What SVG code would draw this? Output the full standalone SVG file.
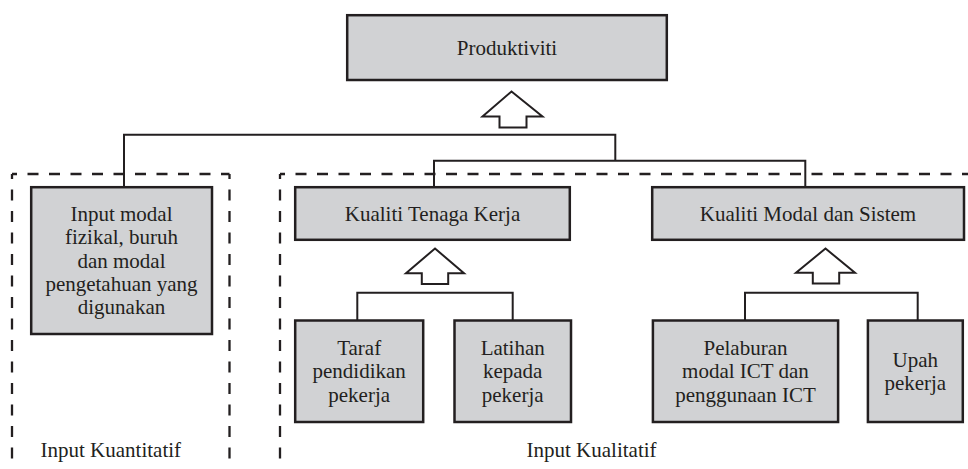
<svg xmlns="http://www.w3.org/2000/svg" width="968" height="469" viewBox="0 0 968 469">
<style>
.box{fill:#d1d2d4;stroke:#231f20;stroke-width:2.5}
.t{font-family:"Liberation Serif","Times New Roman",serif;font-size:21px;fill:#231f20;text-anchor:middle}
.tl{font-family:"Liberation Serif","Times New Roman",serif;font-size:21px;fill:#231f20}
.ln{fill:none;stroke:#231f20;stroke-width:2}
.dash{fill:none;stroke:#231f20;stroke-width:2.3;stroke-dasharray:11 10.5;stroke-dashoffset:6}
.arr{fill:#ffffff;stroke:#231f20;stroke-width:2;stroke-linejoin:miter}
</style>
<rect width="968" height="469" fill="#ffffff"/>
<g id="groups">
<path class="dash" d="M12,174 V469"/>
<path class="dash" d="M12,174 H229.5"/>
<path class="dash" d="M229.5,174 V469"/>
<path class="dash" d="M280,174 V469"/>
<path class="dash" d="M280,174 H968"/>
<text class="tl" x="40.5" y="457">Input Kuantitatif</text>
<text class="tl" x="526.5" y="457">Input Kualitatif</text>
</g>
<g id="connectors">
<path class="ln" d="M124,187 V134.7 H615.3 V160.7"/>
<path class="ln" d="M434,187 V160.7 H805.3 V187"/>
<path class="ln" d="M357.3,320 V292.7 H512.7 V320"/>
<path class="ln" d="M745,320 V292.7 H917.7 V320"/>
<polygon class="arr" points="511.5,91.5 542.5,116.5 526.5,116.5 526.5,127.5 499.5,127.5 499.5,116.5 482.5,116.5"/>
<polygon class="arr" points="435,248.5 464,273.2 448.2,273.2 448.2,284 421.8,284 421.8,273.2 406,273.2"/>
<polygon class="arr" points="825.5,248.5 855,272.8 839.2,272.8 839.2,283.5 812.8,283.5 812.8,272.8 796,272.8"/>
</g>
<g id="produktiviti">
<rect class="box" x="347.2" y="15.2" width="319.6" height="64.8"/>
<text class="t" x="507" y="55">Produktiviti</text>
</g>
<g id="input-modal">
<rect class="box" x="31.2" y="187.2" width="180.8" height="146.8"/>
<text class="t" x="121.5" y="221">Input modal</text>
<text class="t" x="121.5" y="244.3">fizikal, buruh</text>
<text class="t" x="121.5" y="267.6">dan modal</text>
<text class="t" x="121.5" y="290.9">pengetahuan yang</text>
<text class="t" x="121.5" y="314.2">digunakan</text>
</g>
<g id="kualiti-tenaga">
<rect class="box" x="295.2" y="187.2" width="274.6" height="52.6"/>
<text class="t" x="432.5" y="221">Kualiti Tenaga Kerja</text>
</g>
<g id="kualiti-modal">
<rect class="box" x="652.2" y="187.2" width="311.8" height="52.6"/>
<text class="t" x="808" y="221">Kualiti Modal dan Sistem</text>
</g>
<g id="taraf">
<rect class="box" x="295.2" y="320.5" width="128" height="101.5"/>
<text class="t" x="359.2" y="355">Taraf</text>
<text class="t" x="359.2" y="378.3">pendidikan</text>
<text class="t" x="359.2" y="401.6">pekerja</text>
</g>
<g id="latihan">
<rect class="box" x="454.5" y="320.5" width="116.5" height="101.5"/>
<text class="t" x="512.7" y="355">Latihan</text>
<text class="t" x="512.7" y="378.3">kepada</text>
<text class="t" x="512.7" y="401.6">pekerja</text>
</g>
<g id="pelaburan">
<rect class="box" x="652.9" y="320.5" width="185.2" height="101.5"/>
<text class="t" x="745.5" y="355">Pelaburan</text>
<text class="t" x="745.5" y="378.3">modal ICT dan</text>
<text class="t" x="745.5" y="401.6">penggunaan ICT</text>
</g>
<g id="upah">
<rect class="box" x="867.9" y="320.5" width="94.9" height="101.5"/>
<text class="t" x="915.3" y="366.7">Upah</text>
<text class="t" x="915.3" y="390">pekerja</text>
</g>
</svg>
